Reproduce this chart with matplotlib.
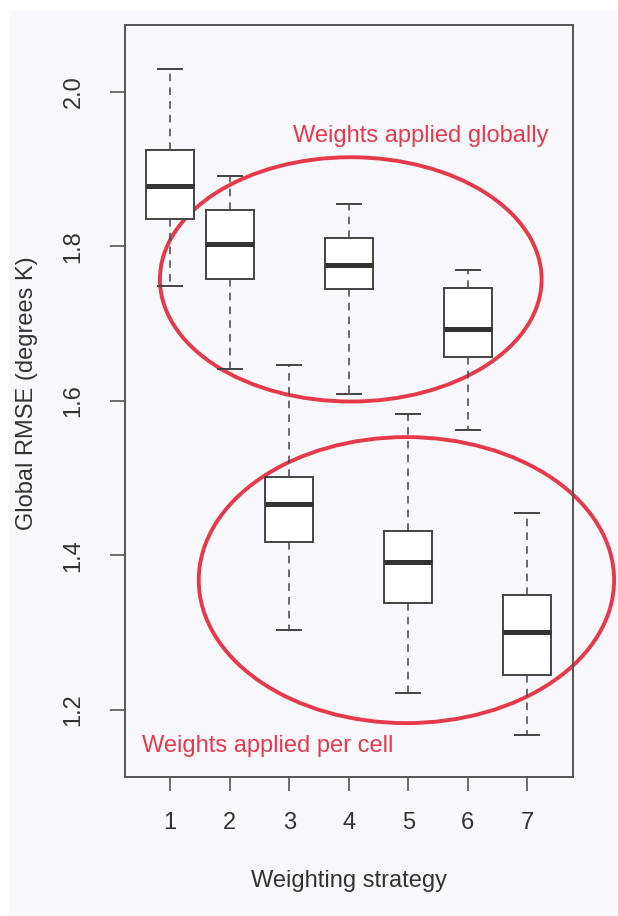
import matplotlib
matplotlib.use("Agg")
from matplotlib import pyplot as plt
from matplotlib.patches import Ellipse, Rectangle

plt.rcParams['font.family'] = ['Liberation Sans', 'DejaVu Sans']

# -- data --------------------------------------------------------------------
strategies = [1, 2, 3, 4, 5, 6, 7]
whislo = [1.748, 1.641, 1.304, 1.609, 1.222, 1.562, 1.168]
q1 = [1.835, 1.758, 1.417, 1.744, 1.338, 1.657, 1.245]
med = [1.878, 1.803, 1.466, 1.776, 1.392, 1.693, 1.301]
q3 = [1.925, 1.847, 1.502, 1.810, 1.431, 1.746, 1.349]
whishi = [2.029, 1.891, 1.646, 1.854, 1.583, 1.769, 1.455]
yticks = [1.2, 1.4, 1.6, 1.8, 2.0]
ytick_labels = ["1.2", "1.4", "1.6", "1.8", "2.0"]

label_global = "Weights applied globally"
label_cell = "Weights applied per cell"

RED = '#e63a4b'
INK = '#333333'
GREY = '#555555'
PANEL = '#f9f9fd'
FS = 17

fig = plt.figure(figsize=(6.18, 9.16), dpi=100, facecolor='white')
fig.patches.append(Rectangle((9 / 618, -0.01), 1, 1.01 - 11 / 916,
                             transform=fig.transFigure, facecolor=PANEL,
                             edgecolor='none', zorder=-10))
ax = fig.add_axes([125 / 618, 1 - 777 / 916, 447.5 / 618, 752.5 / 916])
ax.set_facecolor(PANEL)

stats = []
for i in range(len(strategies)):
    stats.append(dict(whislo=whislo[i], q1=q1[i], med=med[i], q3=q3[i],
                      whishi=whishi[i], fliers=[]))

ax.bxp(stats, positions=strategies, widths=0.8, showfliers=False,
       patch_artist=True,
       boxprops=dict(facecolor='white', edgecolor='#444444', linewidth=1.4),
       medianprops=dict(color=INK, linewidth=3.6, solid_capstyle='butt'),
       whiskerprops=dict(color='#444444', linewidth=1.1,
                         linestyle=(0, (5, 4))),
       capprops=dict(color='#444444', linewidth=1.4), capwidths=0.4)

# -- annotation ellipses --------------------------------------------------------
ax.add_patch(Ellipse((4.034, 1.757), 6.414, 0.316, fill=False,
                     edgecolor=RED, linewidth=2.8, clip_on=False))
ax.add_patch(Ellipse((4.969, 1.368), 6.98, 0.370, fill=False,
                     edgecolor=RED, linewidth=2.8, clip_on=False))
ax.text(3.056, 1.935, label_global, color=RED, fontsize=FS,
        ha='left', va='baseline')
ax.text(0.528, 1.146, label_cell, color=RED, fontsize=FS,
        ha='left', va='baseline')

# -- axes --------------------------------------------------------------------------
ax.set_xlim(0.24, 7.76)
ax.set_ylim(1.1133, 2.0867)
ax.set_xticks(strategies)
ax.set_xticklabels([str(s) for s in strategies])
ax.set_yticks(yticks)
ax.set_yticklabels(ytick_labels, rotation=90, va='center')
for sp in ax.spines.values():
    sp.set_color(GREY)
    sp.set_linewidth(1.4)
ax.tick_params(axis='both', direction='out', color=GREY, width=1.2,
               labelcolor=INK, labelsize=FS)
ax.tick_params(axis='x', length=10, pad=15)
ax.tick_params(axis='y', length=11, pad=18)

fig.text(27 / 618, 0.5704, "Global RMSE (degrees K)", rotation=90,
         ha='center', va='center', fontsize=FS, color=INK)
fig.text(348.75 / 618, 1 - 886.7 / 916, "Weighting strategy",
         ha='center', va='baseline', fontsize=FS, color=INK)

fig.savefig("out.png", dpi=100, facecolor=fig.get_facecolor())
